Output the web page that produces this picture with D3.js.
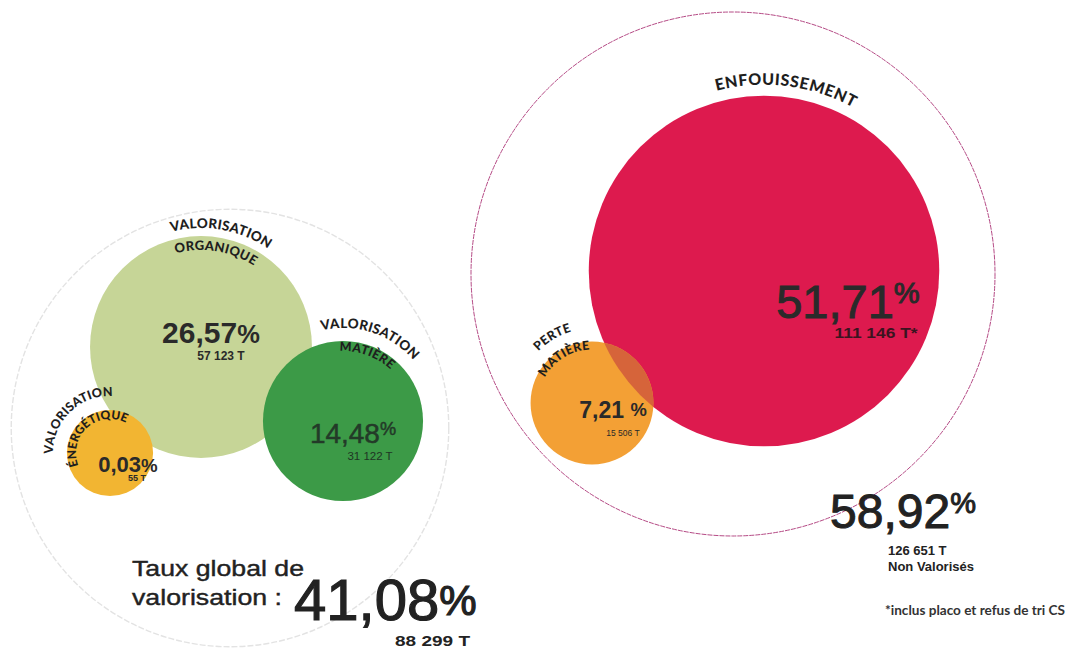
<!DOCTYPE html>
<html>
<head>
<meta charset="utf-8">
<script src="https://cdn.jsdelivr.net/npm/d3@7"></script>
<style>
  body { margin: 0; background: #fff; }
  svg { display: block; }
</style>
</head>
<body>
<div id="chart"></div>
<script>
/* DATA */
var categories = ["Valorisation organique", "Valorisation matière", "Valorisation énergétique", "Enfouissement", "Perte matière"];
var labelLines = [["VALORISATION", "ORGANIQUE"], ["VALORISATION", "MATIÈRE"], ["VALORISATION", "ÉNERGÉTIQUE"], ["ENFOUISSEMENT"], ["PERTE", "MATIÈRE"]];
var percents = [26.57, 14.48, 0.03, 51.71, 7.21];
var tonnes = [57123, 31122, 55, 111146, 15506];
var tonneSuffix = [" T", " T", " T", " T*", " T"];

var totalNames = ["Taux global de valorisation", "Non Valorisés"];
var totalPercents = [41.08, 58.92];
var totalTonnes = [88299, 126651];
var footnote = "*inclus placo et refus de tri CS";

/* CONSTANTS AND GLOBALS */
var width = 1078, height = 650;

// french number format : 26,57 and 57 123
var fr = d3.formatLocale({decimal: ",", thousands: " ", grouping: [3], currency: ["", " €"]});
var fmtPct = fr.format(",.2f");
var fmtT = fr.format(",d");

// radius of the bubbles and of the two big rings
var r = d3.scaleLinear().domain([0, 52]).range([43, 176]);
var rTotal = d3.scaleSqrt().domain([0, 58.92]).range([0, 262]);

// layout of each bubble (positions, label arcs, text styles)
var layout = [
  {cx: 201, cy: 347, fill: "#c6d597",
   labels: [{dr: 8, a: 10, size: 13.5, ls: 0.3}, {dr: -14, a: 9, size: 13, ls: 0.3}],
   pct: {x: 211, y: 343, size: 30, weight: "bold", p: 0.85, up: 0, space: "", sw: 0},
   ton: {x: 221, y: 360, size: 12, weight: "bold", len: 0}},
  {cx: 343, cy: 421, fill: "#3c9a47",
   labels: [{dr: 13, a: 18, size: 13.5, ls: 0.3}, {dr: -10, a: 20, size: 12.5, ls: 0.3}],
   pct: {x: 353, y: 443, size: 28, weight: "normal", p: 0.65, up: 8, space: "", sw: 0.5},
   ton: {x: 370, y: 460, size: 11.5, weight: "normal", len: 0}},
  {cx: 110, cy: 453, fill: "#f2b532",
   labels: [{dr: 14, a: -44, size: 12.5, ls: 0.2}, {dr: -9, a: -42, size: 12, ls: 0}],
   pct: {x: 128, y: 472, size: 22, weight: "bold", p: 0.85, up: 0, space: "", sw: 0},
   ton: {x: 137, y: 481, size: 9, weight: "bold", len: 0}},
  {cx: 764, cy: 271, fill: "#dd1a4e",
   labels: [{dr: 11, a: 7, size: 16, ls: 0.6}],
   pct: {x: 848, y: 318, size: 47, weight: "normal", p: 0.62, up: 15, space: "", sw: 1},
   ton: {x: 876, y: 338, size: 14, weight: "bold", len: 83}},
  {cx: 592, cy: 403, fill: "#f3a035",
   labels: [{dr: 13, a: -31, size: 12.5, ls: 0.3}, {dr: -8, a: -32, size: 12.5, ls: 0.3}],
   pct: {x: 613, y: 418, size: 23, weight: "bold", p: 0.8, up: 2, space: " ", sw: 0},
   ton: {x: 623, y: 436, size: 8.5, weight: "normal", len: 0}}
];

var rings = [
  {cx: 230, cy: 428, stroke: "#e3e3e3", dash: "6 2", sw: 1.4},
  {cx: 733, cy: 274, stroke: "#b54a85", dash: "5 1", sw: 1}
];

function arcPath(cx, cy, rad, mid) {
  // arc of 180 degrees centred on "mid" (degrees clockwise from the top)
  var p = d3.path();
  var a0 = (mid - 180) * Math.PI / 180, a1 = mid * Math.PI / 180;
  p.arc(cx, cy, rad, a0, a1);
  return p.toString();
}

/* HTML ELEMENTS */
var svg = d3.select("#chart").append("svg")
  .attr("width", width)
  .attr("height", height);

var defs = svg.append("defs");

// the two big rings
svg.selectAll(".ring")
  .data(totalPercents)
  .enter().append("circle")
  .attr("class", "ring")
  .attr("cx", function(d, i) { return rings[i].cx; })
  .attr("cy", function(d, i) { return rings[i].cy; })
  .attr("r", function(d) { return rTotal(d); })
  .attr("fill", "none")
  .attr("stroke", function(d, i) { return rings[i].stroke; })
  .attr("stroke-width", function(d, i) { return rings[i].sw; })
  .attr("stroke-dasharray", function(d, i) { return rings[i].dash; });

// bubbles, drawn in this order so that overlaps look like the original
var order = [0, 1, 2, 3, 4];
svg.selectAll(".bubble")
  .data(order)
  .enter().append("circle")
  .attr("class", "bubble")
  .attr("cx", function(i) { return layout[i].cx; })
  .attr("cy", function(i) { return layout[i].cy; })
  .attr("r", function(i) { return r(percents[i]); })
  .attr("fill", function(i) { return layout[i].fill; });

// overlap between enfouissement and perte matière
defs.append("clipPath").attr("id", "clipEnf")
  .append("circle")
  .attr("cx", layout[3].cx)
  .attr("cy", layout[3].cy)
  .attr("r", r(percents[3]));

svg.append("circle")
  .attr("cx", layout[4].cx)
  .attr("cy", layout[4].cy)
  .attr("r", r(percents[4]))
  .attr("fill", "#d6643a")
  .attr("clip-path", "url(#clipEnf)");

// curved category labels
order.forEach(function(i) {
  var L = layout[i];
  labelLines[i].forEach(function(line, j) {
    var lab = L.labels[j];
    var id = "arc" + i + "_" + j;
    defs.append("path")
      .attr("id", id)
      .attr("d", arcPath(L.cx, L.cy, r(percents[i]) + lab.dr, lab.a));
    svg.append("text")
      .attr("font-family", "Lato, 'Open Sans', sans-serif")
      .attr("font-weight", 900)
      .attr("font-size", lab.size)
      .attr("letter-spacing", lab.ls)
      .attr("fill", "#1e1e1e")
      .append("textPath")
      .attr("href", "#" + id)
      .attr("startOffset", "50%")
      .attr("text-anchor", "middle")
      .text(line);
  });
});

// percentages and tonnages inside the bubbles
order.forEach(function(i) {
  var P = layout[i].pct, T = layout[i].ton;
  var col = i == 1 ? "#233a28" : "#2a2a2a";
  var t = svg.append("text")
    .attr("x", P.x)
    .attr("y", P.y)
    .attr("text-anchor", "middle")
    .attr("font-family", "'Liberation Sans', Arial, sans-serif")
    .attr("font-weight", P.weight)
    .attr("font-size", P.size)
    .attr("fill", col)
    .attr("stroke", P.sw ? col : "none")
    .attr("stroke-width", P.sw);
  t.append("tspan").text(fmtPct(percents[i]) + P.space);
  t.append("tspan")
    .attr("font-size", P.size * P.p)
    .attr("dy", -P.up)
    .text("%");

  var tt = svg.append("text")
    .attr("x", T.x)
    .attr("y", T.y)
    .attr("text-anchor", "middle")
    .attr("font-family", "'Liberation Sans', Arial, sans-serif")
    .attr("font-weight", T.weight)
    .attr("font-size", T.size)
    .attr("fill", i == 1 ? "#1f3524" : (i == 3 ? "#3b1420" : "#2a2a2a"))
    .text(fmtT(tonnes[i]) + tonneSuffix[i]);
  if (T.len) tt.attr("textLength", T.len).attr("lengthAdjust", "spacingAndGlyphs");
});

// total on the left : taux global de valorisation
var words = totalNames[0].split(" ");
var left = svg.append("g")
  .attr("font-family", "'Liberation Sans', Arial, sans-serif")
  .attr("fill", "#222");

left.append("text")
  .attr("x", 132).attr("y", 576)
  .attr("font-size", 22)
  .attr("stroke", "#222").attr("stroke-width", 0.4)
  .attr("textLength", 172).attr("lengthAdjust", "spacingAndGlyphs")
  .text(words.slice(0, 3).join(" "));
left.append("text")
  .attr("x", 132).attr("y", 605)
  .attr("font-size", 22)
  .attr("stroke", "#222").attr("stroke-width", 0.4)
  .attr("textLength", 150).attr("lengthAdjust", "spacingAndGlyphs")
  .text(words[3] + " :");

var big = left.append("text")
  .attr("x", 294).attr("y", 620)
  .attr("font-size", 58)
  .attr("stroke", "#222").attr("stroke-width", 1.2);
big.append("tspan").text(fmtPct(totalPercents[0]));
big.append("tspan").attr("font-size", 42).attr("dy", -5).text("%");

left.append("text")
  .attr("x", 395).attr("y", 646)
  .attr("font-size", 14)
  .attr("font-weight", "bold")
  .attr("textLength", 75).attr("lengthAdjust", "spacingAndGlyphs")
  .text(fmtT(totalTonnes[0]) + " T");

// total on the right : non valorisés
var right = svg.append("g")
  .attr("font-family", "'Liberation Sans', Arial, sans-serif")
  .attr("fill", "#222");

var big2 = right.append("text")
  .attr("x", 830).attr("y", 528)
  .attr("font-size", 48)
  .attr("stroke", "#222").attr("stroke-width", 1);
big2.append("tspan").text(fmtPct(totalPercents[1]));
big2.append("tspan").attr("font-size", 29).attr("dy", -15).text("%");

right.append("text")
  .attr("x", 888).attr("y", 555)
  .attr("font-size", 13)
  .attr("font-weight", "bold")
  .text(fmtT(totalTonnes[1]) + " T");
right.append("text")
  .attr("x", 888).attr("y", 571)
  .attr("font-size", 13)
  .attr("font-weight", "bold")
  .text(totalNames[1]);

// footnote
svg.append("text")
  .attr("x", 885).attr("y", 615)
  .attr("font-family", "Lato, 'Open Sans', sans-serif")
  .attr("font-size", 12.5)
  .attr("font-weight", "bold")
  .attr("fill", "#333")
  .attr("textLength", 180).attr("lengthAdjust", "spacingAndGlyphs")
  .text(footnote);
</script>
</body>
</html>
